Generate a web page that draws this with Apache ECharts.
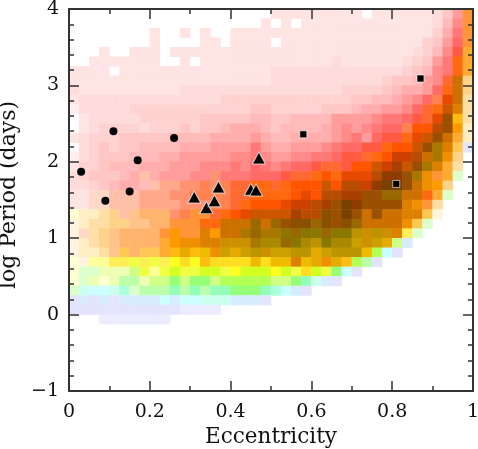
<!DOCTYPE html>
<html>
<head>
<meta charset="utf-8">
<style>
  html, body { margin: 0; padding: 0; background: #fff; }
  #chart { width: 478px; height: 449px; }
</style>
<script src="https://cdn.jsdelivr.net/npm/echarts@6/dist/echarts.min.js"></script>
</head>
<body>
<div id="chart"></div>
<script>
// colour level per cell: one char per bin of eccentricity (40 bins, 0..1),
// one row per bin of log period (top row is 3.875..4), '.' means empty
const densityRows = [
  '....................BBBBBBBBB.BBBBBBCEHt',
  '...................B.B.BBBBBBBBBBBBBCFIt',
  '........B..B.B..BBBBBBBBBBBBBBBBBBBBDGJt',
  '........B....BB.BBBB.BBBBBBBBBBBBBBDEHKt',
  '...B..BBB.BBBBBBBBBBBBBBBBBBBBBBBBCDFILh',
  '..BBBBBBB..B.BBBBBBBBBBBBBCBBBBBBCDEHJNh',
  'BBBB.BBBBBBBBBBBBBBBCCCCCCCCCCCCCDEFIJNh',
  'BBBBBBBBBBBBBBBBBBBBCCCCCCCCCCCDEEFHIMdk',
  'CBBBBBBBBBBCCCCCCCCCCCCCCCCDDDDEFGGHKNdk',
  'BCCCCCCCCCCCCCCDDDDDDDDDDDDDEEFFGHIKsPdl',
  'ACCCCCDDDDDDDDDDDDEEDDDDDEEEFGGHHIKMNRel',
  '.BCCCCCDDDDDDEEEEEFFEEFFFFHHHHIJJKLMPVil',
  '.BCDDDDCDDDEDEEFGGGFEFFFFGHIHIJKKsOOSVgm',
  'BCDDDEEEEEFFFFGGGGHGFFGGGGHIJHKLLNPRVdhm',
  '.CDEDEEFFFFGGGHHHHJHGGHHHIJKKLLNOORVYej-',
  'ACDEEEFFFGGHHHHHIIJIHHIIJJKLLMNOQQSdYfk.',
  'BDDEFFFGGGHHHIIIJIKJIJKKLMMLOORQTRVYehl.',
  'CDEEEFGpGHHHIIrJJJKKKLMMNONPPPSUUVYfth7.',
  'CCDEFGGFpqqrrsrsMMNNMNOOOROSSQU@@Vdfgk..',
  'BBoopppqqqrrssssMMNNNNOPOSSTTVVXXddNh7..',
  'BBoopppqqqqrrrssMNOOOPQQSTV@UVVVVeftl...',
  '1mmlkpuvvvrsttMNOPRRRRTSSWV@VdVddeejn...',
  'nmllkkuuvvtttNNdddXdXVWWXWVWXddddfj7....',
  'nolkuvvvvtgttegddYXYYZXZZXZZbcbce#7.....',
  'nmlkuvvvvhgffeecccYaaXZabZaa$c$%3~......',
  'nmmlujvjjhi%i^f$%$bc$$bb%$bbb^4*-.......',
  '1n00##y#y#xwxiwwww^w^^e^%f%i46-.........',
  '1772223y0yzyyzzyxzzzxzywzy5*-...........',
  '172126623353553444443358+~-.............',
  '7+**+9766686868855589*~-................',
  '-~-~-~~~~*~**+++~~~-....................',
  '-----------____.........................',
  '..._______..............................',
]

// one entry per level, same order as levelCodes
const levelCodes = 'ABCDEFGHIJKLMNOPQRSTUVWXYZabcdefghijklmnopqrstuvwxyz0123456789+*~-_@#$%^'
const levelColors = [
  '#fff0f0', '#ffe4e4', '#ffdcdc', '#ffd2d2', '#ffc6c6', '#ffbaba', '#ffadad', '#ff9c9c', '#ff8a8a', '#ff7878',
  '#ff6a66', '#ff5a44', '#ff6a33', '#ff6a11', '#ff5500', '#e64a00', '#cc4000', '#cc5500', '#b84c00', '#aa4000',
  '#8f3c00', '#995000', '#8a5000', '#996800', '#aa7700', '#8a7700',
  '#aa8800', '#bb9400', '#cc9000', '#cc7000', '#dd8000', '#ee9000', '#ff9900', '#ffaa33', '#ffbb11', '#ffc855',
  '#ffd28a', '#ffdfa6', '#ffeec4', '#fff4e0', '#ffd8c8', '#ffc0aa', '#ffa88c', '#ff9270', '#ff8250', '#ff9438',
  '#ffc48c', '#ffb46e', '#ffdd22', '#ffff22', '#eeff44', '#d4ff22',
  '#ffff99', '#ffffd4', '#eeffb4', '#d0ff88', '#b4ff55', '#94ff77', '#bbffaa', '#ddffcc', '#94ffbb', '#aaffdd',
  '#ccffee', '#ccffff', '#d8ecff', '#e4e4ff', '#ececff',
  '#7a4000', '#ffee55', '#cca000', '#e6aa00', '#eebb00',
]

// [eccentricity, log period]
const circlePlanets = [[0.03, 1.87], [0.09, 1.49], [0.11, 2.40], [0.15, 1.61], [0.17, 2.02], [0.26, 2.31]]
const trianglePlanets = [[0.31, 1.54], [0.34, 1.40], [0.36, 1.49], [0.37, 1.67], [0.45, 1.64], [0.463, 1.63], [0.47, 2.05]]
const squarePlanets = [[0.58, 2.36], [0.81, 1.71], [0.87, 3.09]]

const eccBins = []
for (let i = 0; i < 40; i++) eccBins.push(i)
const periodBins = eccBins.slice()

const cells = []
densityRows.forEach((row, r) => {
  for (let c = 0; c < 40; c++) {
    if (row[c] !== '.') cells.push([c, 39 - r, levelCodes.indexOf(row[c])])
  }
})

const FONT = 'DejaVu Serif'
const INK = '#333'

function frameAxis(position, minorSplit, extra) {
  return {
    type: 'value',
    position,
    z: 10,
    axisLine: { show: true, onZero: false, lineStyle: { color: INK, width: 2 } },
    axisTick: { show: true, inside: true, length: 10, lineStyle: { color: INK, width: 1.5 } },
    minorTick: { show: true, splitNumber: minorSplit, length: 5, lineStyle: { color: INK, width: 1.5 } },
    splitLine: { show: false },
    ...extra,
  }
}

function tickText(v) {
  return v < 0 ? '\u2212' + Math.abs(v) : String(Math.round(v * 10) / 10)
}

const labelFont = { fontFamily: FONT, fontSize: 19, color: '#111', formatter: tickText }

const chart = echarts.init(document.getElementById('chart'))
chart.setOption({
  animation: false,
  backgroundColor: '#fff',
  grid: { left: 69, right: 5, top: 9, bottom: 58, outerBoundsMode: 'none' },
  xAxis: [
    { type: 'category', data: eccBins, show: false },
    frameAxis('bottom', 2, {
      min: 0, max: 1, interval: 0.2,
      axisLabel: { ...labelFont, margin: 12, showMinLabel: true, showMaxLabel: true, hideOverlap: false },
      name: 'Eccentricity', nameLocation: 'center', nameGap: 35,
      nameTextStyle: { fontFamily: FONT, fontSize: 21.5, color: '#111' },
    }),
    frameAxis('top', 2, { min: 0, max: 1, interval: 0.2, axisLabel: { show: false } }),
  ],
  yAxis: [
    { type: 'category', data: periodBins, show: false },
    frameAxis('left', 5, {
      min: -1, max: 4, interval: 1,
      axisLabel: { ...labelFont, margin: 10, showMinLabel: true, showMaxLabel: true, hideOverlap: false },
      name: 'log Period (days)', nameLocation: 'center', nameGap: 41, nameRotate: 90,
      nameTextStyle: { fontFamily: FONT, fontSize: 22, color: '#111', padding: [0, 0, 0, 10] },
    }),
    frameAxis('right', 5, { min: -1, max: 4, interval: 1, axisLabel: { show: false } }),
  ],
  visualMap: {
    show: false,
    seriesIndex: 0,
    dimension: 2,
    min: 0,
    max: levelColors.length - 1,
    inRange: { color: levelColors },
  },
  series: [
    {
      type: 'heatmap',
      xAxisIndex: 0,
      yAxisIndex: 0,
      data: cells,
      progressive: 0,
      emphasis: { disabled: true },
    },
    {
      type: 'scatter', xAxisIndex: 1, yAxisIndex: 1, z: 15,
      data: circlePlanets, symbol: 'circle', symbolSize: 8,
      itemStyle: { color: '#000', opacity: 1 },
    },
    {
      type: 'scatter', xAxisIndex: 1, yAxisIndex: 1, z: 15,
      data: trianglePlanets, symbol: 'triangle', symbolSize: [13, 12],
      itemStyle: { color: '#000', borderColor: 'rgba(255,255,255,0.7)', borderWidth: 1, opacity: 1 },
    },
    {
      type: 'scatter', xAxisIndex: 1, yAxisIndex: 1, z: 15,
      data: squarePlanets, symbol: 'rect', symbolSize: 7,
      itemStyle: { color: '#000', borderColor: 'rgba(255,255,255,0.6)', borderWidth: 1, opacity: 1 },
    },
  ],
})
</script>
</body>
</html>
